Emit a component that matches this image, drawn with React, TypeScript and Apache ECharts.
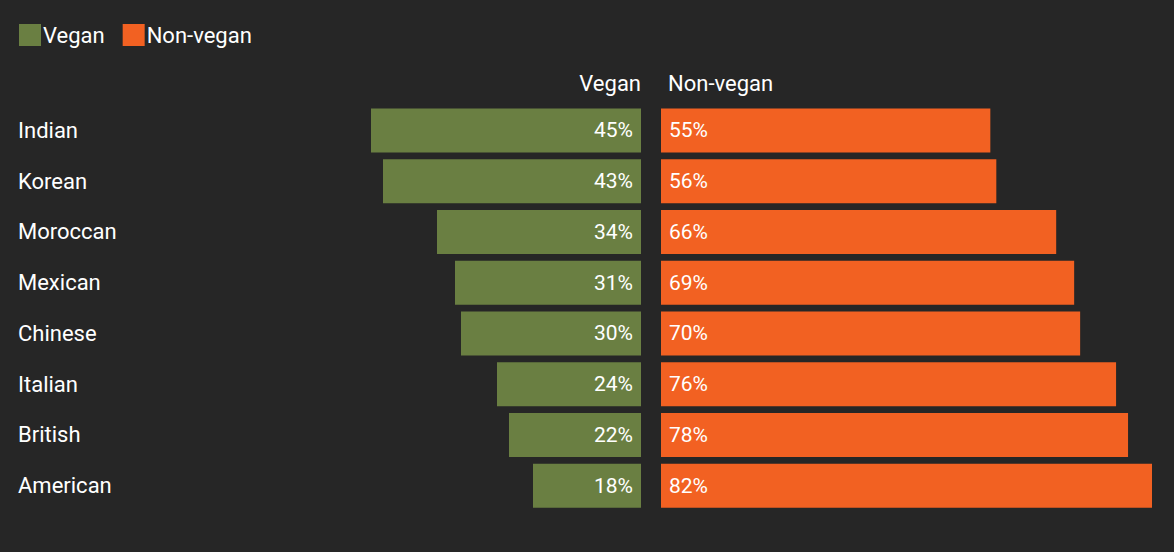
import React, { useEffect, useRef } from "react";
import * as echarts from "echarts";

const categories = ["Indian", "Korean", "Moroccan", "Mexican", "Chinese", "Italian", "British", "American"];
const vegan = [45, 43, 34, 31, 30, 24, 22, 18];
const nonVegan = [55, 56, 66, 69, 70, 76, 78, 82];

export default function App() {
  const ref = useRef<HTMLDivElement>(null);
  useEffect(() => {
    document.body.style.margin = "0";
    document.body.style.background = "#262626";
    const chart = echarts.init(ref.current!, null, { renderer: "svg" });
    const font = "Roboto";
    chart.setOption({
      animation: false,
      backgroundColor: "#262626",
      textStyle: { fontFamily: font },
      legend: {
        left: 14, top: 19, itemWidth: 22, itemHeight: 22, itemGap: 18,
        icon: "rect",
        textStyle: { color: "#fff", fontSize: 22, fontFamily: font, padding: [0, 0, 0, -3] },
        data: ["Vegan", "Non-vegan"],
      },
      grid: [
        { left: 371, width: 270, top: 105, height: 406 },
        { left: 661, width: 491, top: 105, height: 406 },
      ],
      xAxis: [
        { gridIndex: 0, type: "value", min: 0, max: 45, inverse: true, show: false },
        { gridIndex: 1, type: "value", min: 0, max: 82, show: false },
      ],
      yAxis: [
        {
          gridIndex: 0, type: "category", data: categories, inverse: true,
          axisLine: { show: false }, axisTick: { show: false },
          axisLabel: { color: "#fff", fontSize: 22, fontFamily: font, align: "left", margin: 353 },
        },
        { gridIndex: 1, type: "category", data: categories, inverse: true, show: false },
      ],
      graphic: [
        { type: "text", right: 1174 - 641, top: 72, style: { text: "Vegan", fill: "#fff", font: `22px ${font}` } },
        { type: "text", left: 668, top: 72, style: { text: "Non-vegan", fill: "#fff", font: `22px ${font}` } },
      ],
      series: [
        {
          name: "Vegan", type: "bar", xAxisIndex: 0, yAxisIndex: 0, data: vegan, barWidth: 44,
          itemStyle: { color: "#6a7f42" },
          label: { show: true, position: "insideRight", formatter: "{c}%", color: "#fff", fontSize: 21, fontFamily: font, distance: 8 },
        },
        {
          name: "Non-vegan", type: "bar", xAxisIndex: 1, yAxisIndex: 1, data: nonVegan, barWidth: 44,
          itemStyle: { color: "#f26122" },
          label: { show: true, position: "insideLeft", formatter: "{c}%", color: "#fff", fontSize: 21, fontFamily: font, distance: 8 },
        },
      ],
    });
    return () => chart.dispose();
  }, []);
  return <div ref={ref} style={{ width: 1174, height: 552 }} />;
}
